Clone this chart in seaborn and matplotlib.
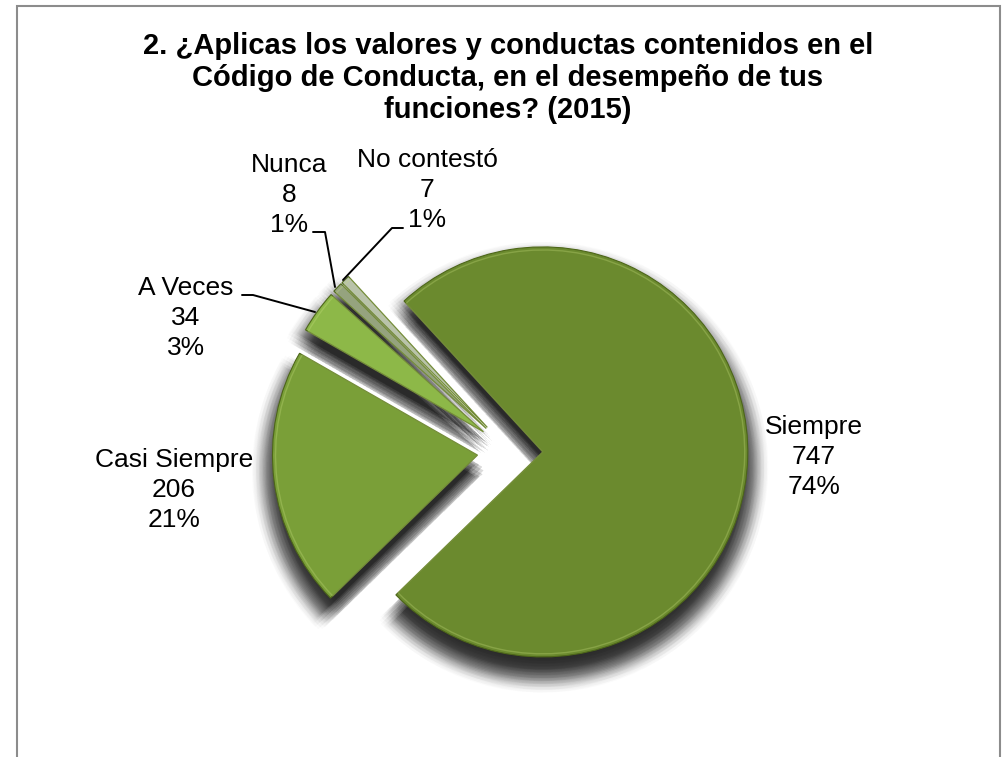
import numpy as np
import matplotlib
matplotlib.use("Agg")
import matplotlib.pyplot as plt
import matplotlib.patches as mpatches
import seaborn as sns

# datos de la encuesta 2015
categorias = ["Siempre", "Casi Siempre", "A Veces", "Nunca", "No contestó"]
respuestas = [747, 206, 34, 8, 7]
porcentajes = ["74%", "21%", "3%", "1%", "1%"]
colores = ["#6b8a2e", "#7a9f38", "#8db848", "#95a37e", "#b9c3aa"]

titulo = ("2. ¿Aplicas los valores y conductas contenidos en el\n"
          "Código de Conducta, en el desempeño de tus\n"
          "funciones? (2015)")

sns.set_theme(style="white")
plt.rcParams['font.family'] = ['Liberation Sans', 'DejaVu Sans']

W, H = 1008, 757
fig = plt.figure(figsize=(W / 100, H / 100), dpi=100)
ax = fig.add_axes([0, 0, 1, 1])

# centro del pastel y radio en pixeles
cx, cy, R = 510, 451, 205


def px(x, y):
    return (x - cx) / R, (cy - y) / R


explotar = [0.16] * len(respuestas)
inicio = 132.6

# sombra difusa (varias capas desplazadas)
for r in np.linspace(0.96, 1.07, 9):
    for ang in np.linspace(0, 2 * np.pi, 10, endpoint=False):
        dx = 0.03 * np.cos(ang)
        dy = -0.075 + 0.03 * np.sin(ang)
        ax.pie(respuestas, explode=explotar, startangle=inicio, counterclock=False,
               radius=r, center=(dx, dy),
               colors=["black"] * len(respuestas),
               wedgeprops=dict(linewidth=0, alpha=0.014))

ax.pie(respuestas, explode=explotar, startangle=inicio, counterclock=False,
       radius=1.0, colors=colores,
       wedgeprops=dict(edgecolor="#4d6619", linewidth=0.8))
# brillo del bisel
ax.pie(respuestas, explode=explotar, startangle=inicio, counterclock=False,
       radius=0.985, colors=["none"] * len(respuestas),
       wedgeprops=dict(edgecolor="#c9e07f", linewidth=1.0, alpha=0.3))
ax.set_xlim(-cx / R, (W - cx) / R)
ax.set_ylim(-(H - cy) / R, cy / R)
ax.set_aspect('auto')
ax.axis('off')

# etiquetas
pos_etiquetas = {
    "Siempre": (814, 457),
    "Casi Siempre": (174, 490),
    "A Veces": (186, 318),
    "Nunca": (289, 195),
    "No contestó": (427, 190),
}
for cat, n, p in zip(categorias, respuestas, porcentajes):
    x, y = pos_etiquetas[cat]
    ax.text(*px(x, y), f"{cat}\n{n}\n{p}", ha='center', va='center',
            fontsize=19, linespacing=1.3, color="black")

# lineas guia
guias = [
    [(313, 232), (325, 232), (335, 287)],
    [(403, 228), (392, 228), (343, 280)],
    [(242, 295), (253, 295), (315, 312)],
]
for g in guias:
    pts = np.array([px(x, y) for x, y in g])
    ax.plot(pts[:, 0], pts[:, 1], color="black", lw=1.4)

fig.text(508 / W, 1 - 78 / H, titulo, ha='center', va='center',
         fontsize=21, fontweight='bold', linespacing=1.2, color="black")

# marco del grafico
fig.patches.append(mpatches.Rectangle((17 / W, -0.02), (1000 - 17) / W, 1 - 6 / H + 0.02,
                                      transform=fig.transFigure, fill=False,
                                      edgecolor="#8c8c8c", linewidth=1.5))

fig.savefig("out.png", dpi=100)
